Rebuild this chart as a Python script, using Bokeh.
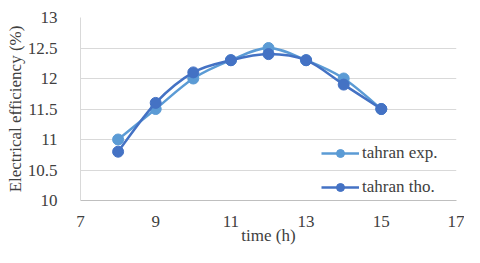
from bokeh.plotting import figure
from bokeh.models import ColumnDataSource, Legend, LegendItem, FixedTicker
from bokeh.embed import file_html
from bokeh.resources import INLINE
import numpy as np

hours = [8, 9, 10, 11, 12, 13, 14, 15]
exp_vals = [11.0, 11.5, 12.0, 12.3, 12.5, 12.3, 12.0, 11.5]
tho_vals = [10.8, 11.6, 12.1, 12.3, 12.4, 12.3, 11.9, 11.5]
x_ticks = [7, 9, 11, 13, 15, 17]
y_ticks = [10, 10.5, 11, 11.5, 12, 12.5, 13]

C_EXP = "#5B9BD5"
C_THO = "#4472C4"
FONT = "Liberation Serif"

p = figure(width=464, height=247, output_backend="svg", toolbar_location=None,
           x_range=(7, 17), y_range=(10, 13),
           min_border_left=80, min_border_right=8, min_border_top=17, min_border_bottom=47,
           border_fill_color="white")
p.outline_line_color = None
p.background_fill_color = "white"


def smooth_segments(xs, ys):
    xs = np.asarray(xs, float)
    ys = np.asarray(ys, float)
    n = len(xs)
    x0, y0, x1, y1, cx0, cy0, cx1, cy1 = [], [], [], [], [], [], [], []
    for i in range(n - 1):
        pm = i - 1 if i > 0 else i
        pp = i + 2 if i + 2 < n else i + 1
        x0.append(xs[i]); y0.append(ys[i])
        x1.append(xs[i + 1]); y1.append(ys[i + 1])
        cx0.append(xs[i] + (xs[i + 1] - xs[pm]) / 6)
        cy0.append(ys[i] + (ys[i + 1] - ys[pm]) / 6)
        cx1.append(xs[i + 1] - (xs[pp] - xs[i]) / 6)
        cy1.append(ys[i + 1] - (ys[pp] - ys[i]) / 6)
    return dict(x0=x0, y0=y0, x1=x1, y1=y1, cx0=cx0, cy0=cy0, cx1=cx1, cy1=cy1)


items = []
for name, vals, col in [("tahran exp.", exp_vals, C_EXP), ("tahran tho.", tho_vals, C_THO)]:
    seg = ColumnDataSource(smooth_segments(hours, vals))
    b = p.bezier(x0="x0", y0="y0", x1="x1", y1="y1", cx0="cx0", cy0="cy0", cx1="cx1", cy1="cy1",
                 source=seg, line_color=col, line_width=2.5)
    src = ColumnDataSource(dict(x=hours, y=vals))
    s = p.scatter("x", "y", source=src, size=11, fill_color=col, line_color=col)
    items.append(LegendItem(label=name, renderers=[b, s], index=0))

legend = Legend(items=items, location=(241, 3), border_line_color=None,
                background_fill_alpha=0.0,
                label_text_font=FONT, label_text_font_size="17px", label_text_color="#404040",
                glyph_width=38, glyph_height=20, spacing=14, label_standoff=3, padding=0, margin=0)
p.add_layout(legend, "center")

p.xaxis.ticker = FixedTicker(ticks=x_ticks)
p.yaxis.ticker = FixedTicker(ticks=y_ticks)
p.xaxis.major_label_overrides = {t: str(t) for t in x_ticks}
p.yaxis.major_label_overrides = {t: ("%g" % t) for t in y_ticks}

for ax in (p.xaxis, p.yaxis):
    ax.major_tick_line_color = None
    ax.minor_tick_line_color = None
    ax.major_label_text_font = FONT
    ax.major_label_text_font_size = "17px"
    ax.major_label_text_color = "#404040"
    ax.axis_label_text_font = FONT
    ax.axis_label_text_font_size = "17px"
    ax.axis_label_text_font_style = "normal"
    ax.axis_label_text_color = "#404040"

p.xaxis.axis_label = "time (h)"
p.yaxis.axis_label = "Electrical efficiency (%)"
p.xaxis.axis_line_color = "#bfbfbf"
p.yaxis.axis_line_color = "#d9d9d9"
p.xaxis.major_label_standoff = 9
p.yaxis.major_label_standoff = 17
p.xaxis.axis_label_standoff = -4
p.yaxis.axis_label_standoff = 0

p.xgrid.grid_line_color = None
p.ygrid.grid_line_color = "#d9d9d9"

open("out.html", "w").write(file_html(p, INLINE))
